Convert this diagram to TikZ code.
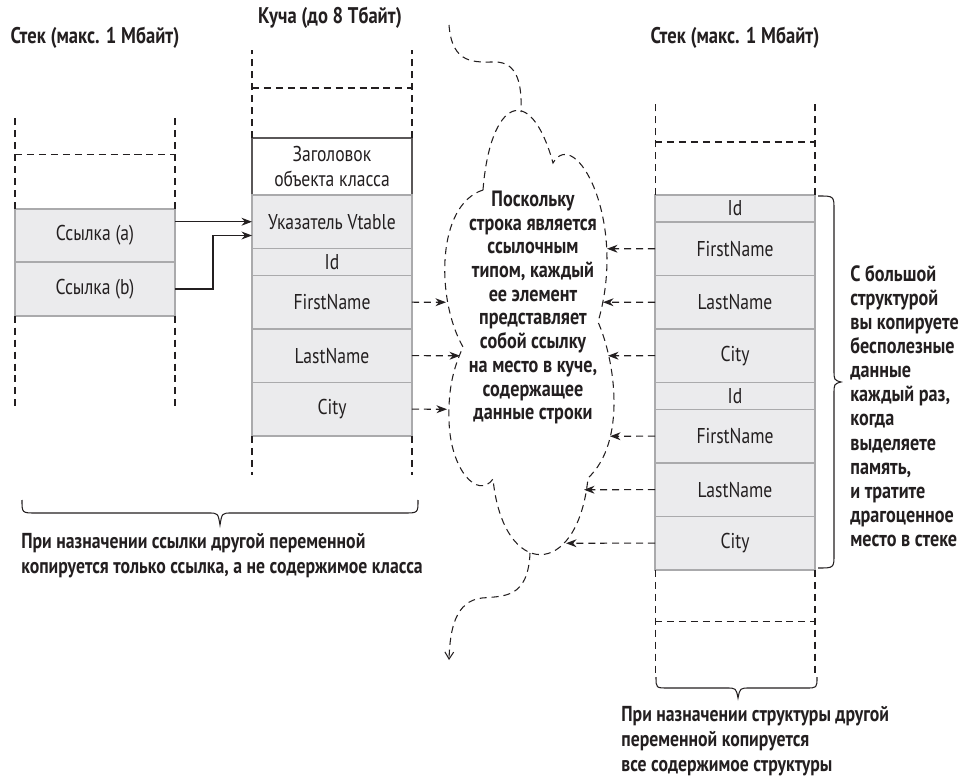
\documentclass[tikz,border=0pt]{standalone}
\usepackage{fontspec}
\setmainfont{PT Sans}[FakeStretch=0.82]
\usetikzlibrary{positioning,arrows.meta}
\definecolor{ink}{RGB}{35,31,32}
\definecolor{cellfill}{RGB}{235,235,237}
\definecolor{cellline}{RGB}{170,170,172}
\tikzset{
  cell/.style={draw=cellline,fill=cellfill,line width=0.9pt,minimum width=3.2cm,minimum height=1.07cm,
    inner sep=0pt,outer sep=0pt,text=ink,font=\fontsize{12.2}{13}\selectfont},
  slim/.style={cell,minimum height=0.54cm},
  headbox/.style={cell,draw=ink!75,fill=white,line width=0.6pt,minimum height=1.14cm,align=center,
    font=\fontsize{12.2}{14.7}\selectfont},
  title/.style={text=ink,font=\bfseries\fontsize{12.9}{14}\selectfont},
  note/.style={text=ink,inner sep=0pt,font=\bfseries\fontsize{12.3}{14.2}\selectfont},
  gapline/.style={draw=ink,line width=0.6pt,dash pattern=on 4pt off 2.8pt},
  ptr/.style={draw=ink,line width=0.6pt,-{Stealth[length=6pt,width=4.5pt]}},
  dptr/.style={ptr,dash pattern=on 4pt off 2.8pt},
}
\begin{document}
\begin{tikzpicture}[x=0.02cm,y=-0.02cm]
  \useasboundingbox (0,0) rectangle (966,776);
  \node[title] (lstk) at (95,38) {Стек (макс. 1 Мбайт)};
  \node[title] (heap) at (330,18) {Куча (до 8 Тбайт)};
  \node[title] (rstk) at (735,38) {Стек (макс. 1 Мбайт)};

  % левый стек
  \node[cell] (refA) at (95,235.5) {Ссылка (a)};
  \node[cell,below=0pt of refA] (refB) {Ссылка (b)};
  \draw[gapline] (refA.north west) -- +(0,-94) (refA.north east) -- +(0,-94)
    ([shift={(0,-54)}]refA.north west) -- ([shift={(0,-54)}]refA.north east)
    (refB.south west) -- +(0,94) (refB.south east) -- +(0,94);

  % куча
  \node[headbox] (h0) at (332,166.5) {Заголовок\\объекта класса};
  \foreach \t/\s [count=\i, remember=\i as \j (initially 0)] in
    {Указатель Vtable/cell,Id/slim,FirstName/cell,LastName/cell,City/cell}
    \node[\s,below=0pt of h\j] (h\i) {\t};
  \draw[gapline] (h0.north west) -- +(0,-88) (h0.north east) -- +(0,-88)
    ([shift={(0,-50)}]h0.north west) -- ([shift={(0,-50)}]h0.north east)
    (h5.south west) -- +(0,39) (h5.south east) -- +(0,39);

  % правый стек
  \coordinate (r0) at (735,195);
  \foreach \t/\s [count=\i, remember=\i as \j (initially 0)] in
    {Id/slim,FirstName/cell,LastName/cell,City/cell,Id/slim,FirstName/cell,LastName/cell,City/cell}
    \node[\s,below=0pt of r\j] (r\i) {\t};
  \draw[gapline] (r1.north west) -- +(0,-92) (r1.north east) -- +(0,-92)
    ([shift={(0,-53)}]r1.north west) -- ([shift={(0,-53)}]r1.north east)
    (r8.south west) -- +(0,107) (r8.south east) -- +(0,107)
    ([shift={(0,52)}]r8.south west) -- ([shift={(0,52)}]r8.south east);

  % ссылки
  \draw[ptr] (refA.east |- h1.west) -- (h1.west);
  \draw[ptr] (refB.east) -- ++(38,0) |- (refA.east -| h1.west);

  % облако
  \draw[gapline] (483,190) .. controls (490,100) and (530,80) .. (553,163)
    .. controls (575,125) and (628,220) .. (598,322)
    .. controls (615,360) and (627,442) .. (588,478)
    .. controls (578,580) and (503,580) .. (493,479)
    .. controls (478,500) and (450,470) .. (449,420)
    .. controls (448,385) and (455,365) .. (463,347)
    .. controls (436,300) and (436,205) .. (483,190);
  \draw[gapline] (449,25) .. controls (452,65) and (475,62) .. (495,62)
    .. controls (518,62) and (522,85) .. (521,112);
  \draw[gapline,-{Straight Barb[length=4pt,width=5pt]}] (530,553) .. controls (528,598) and (505,596) .. (482,598)
    .. controls (455,601) and (450,630) .. (449,660);
  \coordinate (cl3) at (446,302.25);
  \coordinate (cl4) at (460,355.75);
  \coordinate (cl5) at (447,409.25);
  \coordinate (cr2) at (607,248.75);
  \coordinate (cr3) at (603,302.25);
  \coordinate (cr4) at (608,355.75);
  \coordinate (cr6) at (610,436.25);
  \coordinate (cr7) at (584,489.75);
  \coordinate (cr8) at (566,543.25);
  \foreach \i in {3,4,5} \draw[dptr] (h\i.east) -- (cl\i);
  \foreach \i in {2,3,4,6,7,8} \draw[dptr] (r\i.west) -- (cr\i);
  \node[note,align=center,font=\bfseries\fontsize{12.6}{13.5}\selectfont] (why) at (533,307.5)
    {Поскольку\\строка является\\ссылочным\\типом, каждый\\ее элемент\\представляет\\собой ссылку\\на место в куче,\\содержащее\\данные строки};

  % скобки
  \draw[ink,line width=0.6pt] (818,196) .. controls (834,196) .. (834,210) -- (834,370)
    .. controls (834,380) .. (841,382) .. controls (834,384) .. (834,394) -- (834,554)
    .. controls (834,568) .. (818,568);
  \draw[ink,line width=0.6pt] (656,677) .. controls (656,688) .. (668,688) -- (726,688)
    .. controls (736,688) .. (738,698) .. controls (740,688) .. (750,688) -- (806,688)
    .. controls (817,688) .. (817,677);
  \draw[ink,line width=0.6pt] (22,500) .. controls (22,513) .. (36,513) -- (208,513)
    .. controls (218,513) .. (220,525) .. controls (222,513) .. (232,513) -- (404,513)
    .. controls (418,513) .. (418,500);
  \node[note,align=left,anchor=west,font=\bfseries\fontsize{12.6}{13.7}\selectfont] (waste) at (850,406)
    {С большой\\структурой\\вы копируете\\бесполезные\\данные\\каждый раз,\\когда\\выделяете\\память,\\и тратите\\драгоценное\\место в стеке};
  \node[note,align=left,anchor=west] (refcopy) at (21,555.5)
    {При назначении ссылки другой переменной\\копируется только ссылка, а не содержимое класса};
  \node[note,align=left,anchor=west] (valcopy) at (621,741)
    {При назначении структуры другой\\переменной копируется\\все содержимое структуры};
\end{tikzpicture}
\end{document}
